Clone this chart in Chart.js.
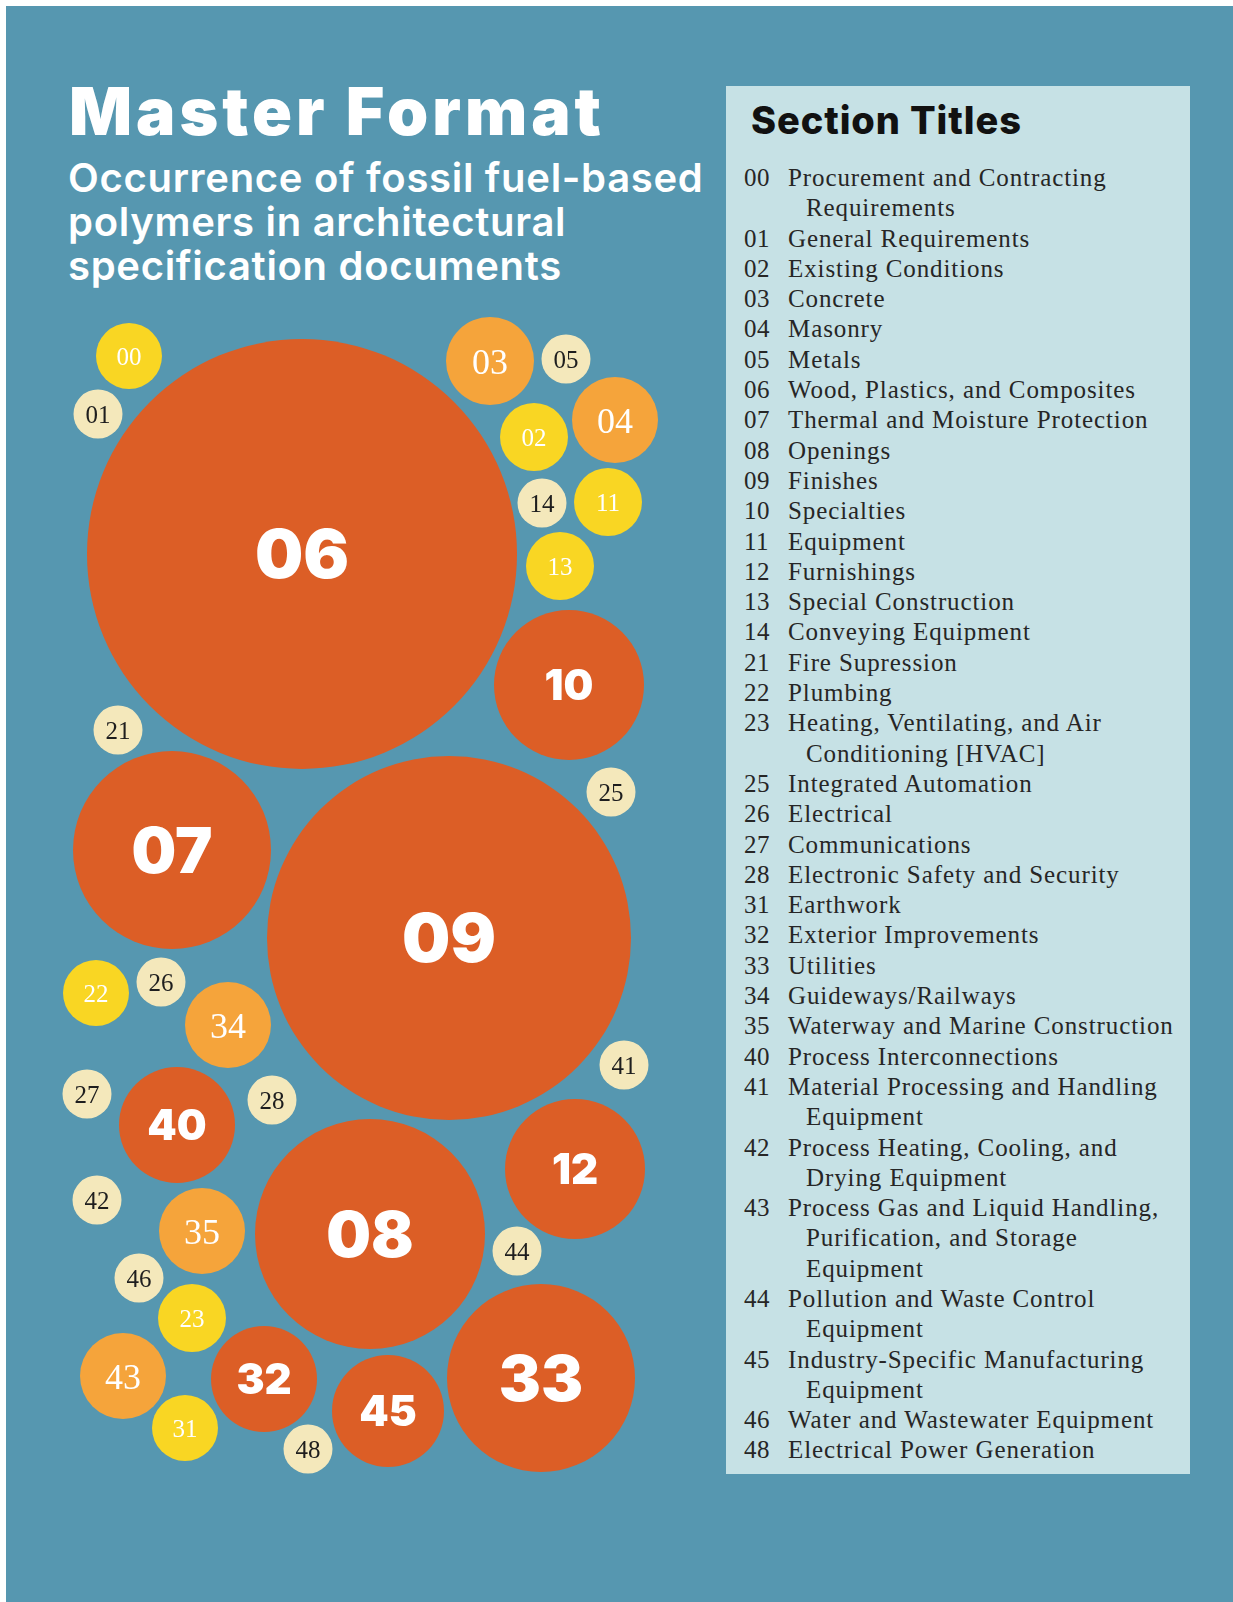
<!DOCTYPE html>
<html lang="en">
<head>
  <meta charset="UTF-8" />
  <title>Master Format</title>
  <script src="https://cdn.jsdelivr.net/npm/chart.js"></script>
  <style>
    html, body { margin: 0; padding: 0; }
    body {
      width: 1233px;
      height: 1602px;
      position: relative;
      overflow: hidden;
      background: #fff;
      font-family: Inter, 'Liberation Sans', sans-serif;
    }
    .page {
      position: absolute;
      left: 6px; top: 6px; right: 0; bottom: 0;
      background: #5697b0;
    }
    h1 {
      position: absolute;
      left: 69px; top: 78px;
      margin: 0;
      font-size: 66px;
      line-height: 66px;
      font-weight: 900;
      color: #fff;
      letter-spacing: 4px;
    }
    .subtitle {
      position: absolute;
      left: 68px; top: 156px;
      margin: 0;
      font-size: 40px;
      line-height: 44px;
      font-weight: 600;
      color: #fff;
      white-space: nowrap;
      letter-spacing: 0.7px;
    }
    .panel {
      position: absolute;
      left: 726px; top: 86px;
      width: 464px; height: 1388px;
      background: #c6e1e5;
    }
    .panel h2 {
      position: absolute;
      left: 25px; top: 14px;
      margin: 0;
      font-size: 38px;
      line-height: 40px;
      font-weight: 800;
      color: #111;
      letter-spacing: 0.9px;
    }
    #sections {
      position: absolute;
      left: 18px; top: 77px;
      font-family: 'Liberation Serif', serif;
      font-size: 25px;
      line-height: 30.3px;
      color: #262626;
      white-space: nowrap;
      letter-spacing: 0.9px;
    }
    .row { position: relative; padding-left: 62px; text-indent: -18px; }
    .row .num { position: absolute; left: 0; top: 0; text-indent: 0; letter-spacing: 0.5px; }
    #bubbles {
      position: absolute;
      left: 0; top: 290px;
    }
  </style>
</head>
<body>
  <div class="page"></div>
  <h1>Master Format</h1>
  <div class="subtitle">Occurrence of fossil fuel-based<br>polymers in architectural<br>specification documents</div>

  <div class="panel">
    <h2>Section Titles</h2>
    <div id="sections"></div>
  </div>

  <canvas id="bubbles" width="700" height="1200"></canvas>

  <script>
    // MasterFormat divisions (bubble layout units, radius in the same units)
    const codes = ['00','01','02','03','04','05','06','07','08','09','10','11','12','13','14',
                   '21','22','23','25','26','27','28','31','32','33','34','35',
                   '40','41','42','43','44','45','46','48'];
    const posX  = [129, 98, 534, 490, 615, 566, 302, 172, 370, 449, 569, 608, 575, 560, 542,
                   118, 96, 192, 611, 161, 87, 272, 185, 264, 541, 228, 202,
                   177, 624, 97, 123, 517, 388, 139, 308];
    const posY  = [66, 124, 147, 71, 130, 69, 264, 560, 944, 648, 395, 212, 879, 276, 213,
                   440, 703, 1028, 502, 692, 804, 810, 1138, 1089, 1088, 735, 941,
                   835, 775, 910, 1086, 961, 1121, 988, 1159];
    const sizes = [33, 24.5, 34, 44, 43, 24.5, 215, 99, 115, 182, 75, 34, 70, 34, 24.5,
                   24.5, 33, 34, 24.5, 24.5, 24.5, 24.5, 33, 53, 94, 43, 43,
                   58, 24.5, 24.5, 43, 24.5, 56, 24.5, 24.5];
    // occurrence tier: 3 = most frequent ... 0 = rare
    const tiers = [1, 0, 1, 2, 2, 0, 3, 3, 3, 3, 3, 1, 3, 1, 0,
                   0, 1, 1, 0, 0, 0, 0, 1, 3, 3, 2, 2,
                   3, 0, 0, 2, 0, 3, 0, 0];

    const sectionTitles = [
      ['00', 'Procurement and Contracting', 'Requirements'],
      ['01', 'General Requirements'],
      ['02', 'Existing Conditions'],
      ['03', 'Concrete'],
      ['04', 'Masonry'],
      ['05', 'Metals'],
      ['06', 'Wood, Plastics, and Composites'],
      ['07', 'Thermal and Moisture Protection'],
      ['08', 'Openings'],
      ['09', 'Finishes'],
      ['10', 'Specialties'],
      ['11', 'Equipment'],
      ['12', 'Furnishings'],
      ['13', 'Special Construction'],
      ['14', 'Conveying Equipment'],
      ['21', 'Fire Supression'],
      ['22', 'Plumbing'],
      ['23', 'Heating, Ventilating, and Air', 'Conditioning [HVAC]'],
      ['25', 'Integrated Automation'],
      ['26', 'Electrical'],
      ['27', 'Communications'],
      ['28', 'Electronic Safety and Security'],
      ['31', 'Earthwork'],
      ['32', 'Exterior Improvements'],
      ['33', 'Utilities'],
      ['34', 'Guideways/Railways'],
      ['35', 'Waterway and Marine Construction'],
      ['40', 'Process Interconnections'],
      ['41', 'Material Processing and Handling', 'Equipment'],
      ['42', 'Process Heating, Cooling, and', 'Drying Equipment'],
      ['43', 'Process Gas and Liquid Handling,', 'Purification, and Storage', 'Equipment'],
      ['44', 'Pollution and Waste Control', 'Equipment'],
      ['45', 'Industry-Specific Manufacturing', 'Equipment'],
      ['46', 'Water and Wastewater Equipment'],
      ['48', 'Electrical Power Generation']
    ];

    const tierColors = ['#f4e8bb', '#f9d623', '#f5a43b', '#dc5e26'];

    // section list
    const list = document.getElementById('sections');
    sectionTitles.forEach(s => {
      const row = document.createElement('div');
      row.className = 'row';
      row.innerHTML = '<span class="num">' + s[0] + '</span>' + s.slice(1).join('<br>');
      list.appendChild(row);
    });

    // labels inside the bubbles
    const bubbleLabels = {
      id: 'bubbleLabels',
      afterDatasetsDraw(chart) {
        const ctx = chart.ctx;
        const meta = chart.getDatasetMeta(0);
        ctx.save();
        ctx.textAlign = 'center';
        ctx.textBaseline = 'alphabetic';
        meta.data.forEach((pt, i) => {
          const t = tiers[i];
          let size, font, color;
          if (t === 3) {
            size = sizes[i] > 150 ? 68 : sizes[i] > 90 ? 63 : 42;
            font = '900 ' + size + 'px Inter, sans-serif';
            color = '#fff';
          } else if (t === 2) {
            size = 36;
            font = size + 'px "Liberation Serif", serif';
            color = '#fff';
          } else {
            size = 25;
            font = size + 'px "Liberation Serif", serif';
            color = t === 1 ? '#fff' : '#1e1e1e';
          }
          ctx.font = font;
          ctx.fillStyle = color;
          ctx.fillText(codes[i], pt.x, pt.y + size * 0.36);
        });
        ctx.restore();
      }
    };

    const xMax = 700, yMax = 1200;
    const unitPx = chart => {
      const a = chart.chartArea;
      return a ? a.width / xMax : 1;
    };

    new Chart(document.getElementById('bubbles'), {
      type: 'bubble',
      data: {
        datasets: [{
          data: codes.map((c, i) => ({ x: posX[i], y: posY[i] })),
          backgroundColor: tiers.map(t => tierColors[t]),
          borderWidth: 0,
          radius: c => sizes[c.dataIndex] * unitPx(c.chart),
          hoverRadius: 0,
          clip: false
        }]
      },
      options: {
        responsive: false,
        animation: false,
        events: [],
        layout: { padding: 0, autoPadding: false },
        plugins: { legend: { display: false }, tooltip: { enabled: false } },
        scales: {
          x: { type: 'linear', min: 0, max: xMax, display: false },
          y: { type: 'linear', min: 0, max: yMax, reverse: true, display: false }
        }
      },
      plugins: [bubbleLabels]
    });
  </script>
</body>
</html>
